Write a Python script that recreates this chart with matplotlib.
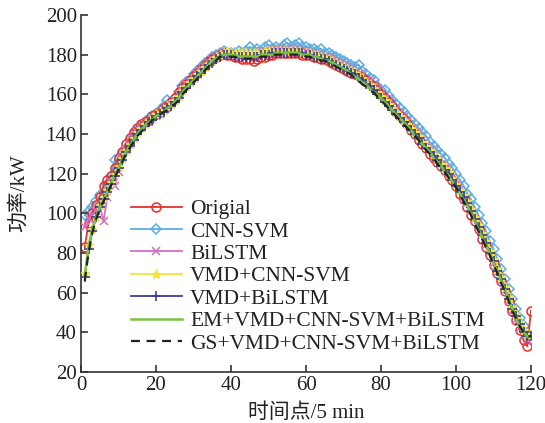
import matplotlib
matplotlib.use("Agg")
import matplotlib.pyplot as plt
import numpy as np

plt.rcParams['font.family'] = ['Liberation Serif', 'Noto Sans CJK SC', 'DejaVu Sans']

time_points = list(range(1, 121))

original = [83, 95, 100, 104, 108, 114, 117, 119, 123, 128,
            131, 135, 138, 141, 143, 145, 146, 147, 149, 150,
            151, 153, 154, 156, 158, 161, 163, 165, 167, 169,
            171, 173, 175, 177, 178, 179, 180, 181, 180, 180,
            179, 179, 178, 178, 178, 177, 178, 179, 179, 180,
            180, 181, 181, 181, 181, 181, 181, 181, 180, 180,
            180, 179, 179, 178, 178, 177, 176, 175, 174, 173,
            172, 171, 170, 169, 168, 167, 165, 164, 162, 160,
            158, 156, 154, 151, 149, 147, 145, 142, 140, 137,
            135, 133, 130, 128, 126, 124, 122, 119, 117, 114,
            110, 107, 103, 99, 96, 92, 87, 83, 79, 74,
            70, 66, 61, 56, 51, 46, 41, 36, 33, 51]

cnn_svm = [99, 101, 103, 106, 109, 111, 115, 119, 127, 126,
           130, 133, 137, 140, 142, 144, 146, 148, 149, 150,
           152, 154, 157, 156, 158, 161, 164, 166, 167, 170,
           172, 174, 176, 177, 179, 180, 181, 182, 181, 181,
           181, 182, 181, 182, 184, 182, 183, 182, 184, 185,
           183, 184, 183, 185, 186, 184, 185, 186, 184, 184,
           183, 183, 182, 183, 181, 181, 180, 179, 178, 177,
           176, 175, 174, 175, 172, 170, 168, 167, 164, 162,
           162, 159, 157, 155, 153, 151, 149, 147, 145, 143,
           141, 139, 136, 134, 132, 130, 128, 125, 123, 120,
           117, 114, 110, 107, 103, 99, 95, 91, 86, 82,
           77, 72, 67, 62, 57, 52, 47, 43, 39, 36]

bilstm = [93, 97, 99, 101, 104, 96, 108, 116, 114, 121,
          128, 132, 135, 138, 141, 143, 145, 146, 148, 149,
          150, 152, 153, 155, 157, 160, 162, 165, 166, 168,
          170, 172, 174, 176, 178, 179, 180, 181, 181, 180,
          180, 180, 179, 181, 180, 180, 181, 182, 181, 182,
          183, 182, 183, 182, 183, 182, 183, 182, 182, 182,
          181, 181, 180, 180, 179, 179, 178, 177, 176, 175,
          174, 173, 171, 170, 169, 167, 166, 164, 162, 160,
          158, 156, 154, 152, 150, 148, 146, 143, 141, 139,
          137, 134, 132, 130, 127, 125, 123, 120, 118, 115,
          112, 108, 105, 101, 97, 93, 89, 84, 80, 75,
          70, 66, 61, 56, 51, 46, 42, 38, 36, 38]

vmd_cnn_svm = [70, 84, 92, 98, 104, 108, 112, 116, 120, 124,
               128, 132, 135, 138, 141, 143, 145, 147, 148, 150,
               151, 152, 154, 155, 157, 159, 162, 164, 166, 168,
               170, 172, 174, 176, 177, 179, 180, 181, 182, 181,
               181, 181, 181, 181, 181, 181, 181, 181, 182, 182,
               182, 182, 182, 182, 182, 182, 182, 182, 181, 181,
               181, 180, 180, 179, 179, 178, 177, 176, 175, 174,
               173, 172, 171, 169, 168, 166, 165, 163, 161, 159,
               157, 155, 153, 151, 149, 147, 145, 143, 141, 139,
               136, 134, 132, 130, 128, 125, 123, 121, 118, 115,
               112, 109, 106, 102, 98, 94, 90, 86, 81, 77,
               72, 68, 63, 58, 53, 49, 45, 41, 39, 39]

vmd_bilstm = [68, 82, 91, 98, 103, 107, 111, 115, 119, 123,
              127, 131, 134, 137, 140, 142, 144, 146, 147, 149,
              150, 151, 153, 154, 156, 158, 161, 163, 165, 167,
              169, 171, 173, 175, 176, 178, 179, 180, 180, 180,
              179, 179, 179, 179, 179, 179, 179, 180, 180, 180,
              181, 181, 181, 181, 181, 181, 181, 181, 181, 180,
              180, 179, 179, 178, 178, 177, 176, 175, 174, 173,
              172, 171, 170, 168, 167, 165, 164, 162, 160, 158,
              156, 154, 152, 150, 148, 146, 144, 142, 140, 138,
              135, 133, 131, 129, 127, 124, 122, 120, 117, 114,
              111, 108, 105, 101, 97, 93, 89, 85, 80, 76,
              71, 67, 62, 57, 52, 48, 44, 40, 38, 38]

em_model = [68, 83, 92, 98, 103, 107, 111, 115, 119, 123,
            127, 131, 134, 137, 140, 142, 144, 146, 147, 149,
            150, 151, 153, 154, 156, 158, 161, 163, 165, 167,
            169, 171, 173, 175, 177, 178, 179, 180, 180, 180,
            180, 179, 179, 179, 179, 179, 179, 180, 180, 180,
            180, 181, 181, 181, 181, 181, 181, 181, 180, 180,
            180, 179, 179, 178, 177, 177, 176, 175, 174, 173,
            172, 170, 169, 168, 166, 165, 163, 161, 160, 158,
            156, 154, 152, 150, 148, 146, 144, 142, 139, 137,
            135, 133, 131, 128, 126, 124, 121, 119, 116, 113,
            110, 107, 104, 100, 96, 92, 88, 84, 80, 75,
            71, 66, 62, 57, 52, 47, 43, 40, 38, 37]

gs_model = [66, 80, 90, 97, 102, 106, 110, 114, 118, 122,
            126, 130, 133, 136, 139, 141, 143, 145, 147, 148,
            150, 151, 152, 154, 155, 157, 160, 162, 164, 166,
            168, 170, 172, 174, 176, 177, 179, 179, 179, 179,
            179, 178, 178, 178, 178, 178, 178, 179, 179, 179,
            180, 180, 180, 180, 180, 180, 180, 180, 180, 179,
            179, 178, 178, 177, 177, 176, 175, 174, 173, 172,
            171, 170, 168, 167, 165, 164, 162, 161, 159, 157,
            155, 153, 151, 149, 147, 145, 143, 141, 139, 137,
            134, 132, 130, 128, 125, 123, 121, 118, 116, 113,
            110, 106, 103, 99, 95, 91, 87, 83, 79, 74,
            70, 65, 61, 56, 51, 47, 43, 40, 38, 38]

labels = ["Origial", "CNN-SVM", "BiLSTM", "VMD+CNN-SVM", "VMD+BiLSTM",
          "EM+VMD+CNN-SVM+BiLSTM", "GS+VMD+CNN-SVM+BiLSTM"]
x_ticks = [0, 20, 40, 60, 80, 100, 120]
y_ticks = [20, 40, 60, 80, 100, 120, 140, 160, 180, 200]

fig = plt.figure(figsize=(5.45, 4.23), dpi=100)
ax = fig.add_axes([81/545, 1-372/423, 450/545, 357/423])

lw = 1.3
ax.plot(time_points, original, color='#e8302c', lw=lw, marker='o', ms=6.5,
        mfc='none', mew=1.1, label=labels[0], zorder=2)
ax.plot(time_points, cnn_svm, color='#5aaee2', lw=lw, marker='D', ms=5.5,
        mfc='none', mew=1.1, label=labels[1], zorder=1)
ax.plot(time_points, bilstm, color='#d56fbf', lw=lw, marker='x', ms=5.5,
        mew=1.1, label=labels[2], zorder=3)
ax.plot(time_points, vmd_cnn_svm, color='#f2e636', lw=lw, marker='*', ms=6.5,
        mew=1.0, label=labels[3], zorder=4)
ax.plot(time_points, vmd_bilstm, color='#3b3f99', lw=lw, marker='+', ms=7.5,
        mew=1.2, label=labels[4], zorder=5)
ax.plot(time_points, em_model, color='#7cc242', lw=1.8, label=labels[5], zorder=6)
ax.plot(time_points, gs_model, color='#222222', lw=1.6, ls=(0, (4, 3)),
        label=labels[6], zorder=7)

ax.set_xlim(0, 120)
ax.set_ylim(20, 200)
ax.set_xticks(x_ticks)
ax.set_yticks(y_ticks)
for s in ['top', 'right']:
    ax.spines[s].set_visible(False)
for s in ['left', 'bottom']:
    ax.spines[s].set_color('#333333')
    ax.spines[s].set_linewidth(1.2)
ax.tick_params(direction='in', length=5, width=1.2, colors='#333333',
               labelsize=15, labelcolor='#222222', pad=3)

ax.set_xlabel("时间点/5 min", fontsize=15, color='#222222', labelpad=6)
ax.set_ylabel("功率/kW", fontsize=15, color='#222222', labelpad=12)

leg = ax.legend(loc='upper left', bbox_to_anchor=(131/545, 1-199/423),
                bbox_transform=fig.transFigure, frameon=False, fontsize=15.5,
                handlelength=2.35, handletextpad=0.4, labelspacing=0.11,
                borderpad=0, borderaxespad=0)
for t in leg.get_texts():
    t.set_color('#222222')

fig.savefig("out.png", dpi=100)
